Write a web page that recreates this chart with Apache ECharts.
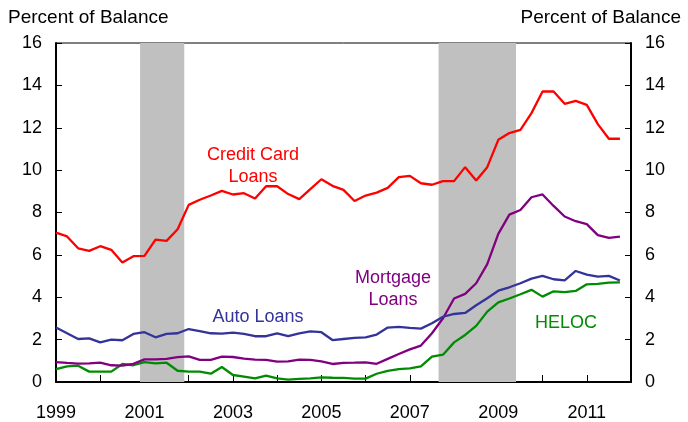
<!DOCTYPE html>
<html>
	<head>
		<meta charset="utf-8">
		<title>Delinquency rates</title>
		<script src="https://cdn.jsdelivr.net/npm/echarts@6/dist/echarts.min.js"></script>
		<style>
			body { margin: 0; background: #fff; }
			#main { width: 688px; height: 422px; }
		</style>
	</head>
	<body>
		<div id="main"></div>
		<script>
			// quarterly, 1999Q1 .. 2011Q4 (x = quarter index)
			var creditCard = [7.05, 6.87, 6.31, 6.19, 6.41, 6.24, 5.64, 5.94, 5.95, 6.72, 6.66, 7.21, 8.36,
				8.60, 8.80, 9.02, 8.85, 8.91, 8.66, 9.24, 9.24, 8.87, 8.63, 9.10, 9.57,
				9.26, 9.07, 8.54, 8.80, 8.94, 9.16, 9.67, 9.73, 9.38, 9.31, 9.48, 9.48, 10.14,
				9.51, 10.14, 11.43, 11.75, 11.90, 12.69, 13.71, 13.71, 13.13, 13.27, 13.08, 12.17, 11.48, 11.48]
			var autoLoans = [2.57, 2.30, 2.03, 2.06, 1.87, 2.00, 1.97, 2.27, 2.35, 2.11, 2.27, 2.30, 2.50,
				2.40, 2.30, 2.28, 2.33, 2.27, 2.16, 2.16, 2.30, 2.17, 2.30, 2.39, 2.35,
				1.98, 2.03, 2.08, 2.11, 2.24, 2.57, 2.60, 2.55, 2.52, 2.77, 3.08, 3.21, 3.26,
				3.62, 3.95, 4.31, 4.47, 4.66, 4.88, 5.01, 4.85, 4.80, 5.24, 5.07, 4.97, 5.01, 4.79]
			var mortgage = [0.94, 0.90, 0.87, 0.88, 0.91, 0.79, 0.77, 0.86, 1.07, 1.07, 1.09, 1.17, 1.21,
				1.04, 1.04, 1.20, 1.18, 1.10, 1.06, 1.04, 0.96, 0.97, 1.06, 1.04, 0.97,
				0.85, 0.90, 0.91, 0.93, 0.86, 1.09, 1.32, 1.54, 1.72, 2.30, 3.01, 3.94, 4.16,
				4.66, 5.56, 6.99, 7.90, 8.12, 8.72, 8.85, 8.31, 7.81, 7.59, 7.45, 6.93, 6.80, 6.86]
			var heloc = [0.61, 0.74, 0.77, 0.49, 0.49, 0.49, 0.85, 0.79, 0.94, 0.88, 0.91, 0.53, 0.49,
				0.49, 0.39, 0.71, 0.33, 0.25, 0.17, 0.30, 0.17, 0.11, 0.15, 0.17, 0.22,
				0.20, 0.19, 0.16, 0.16, 0.39, 0.53, 0.61, 0.64, 0.74, 1.20, 1.29, 1.87, 2.22,
				2.65, 3.32, 3.76, 3.94, 4.14, 4.35, 4.03, 4.28, 4.24, 4.30, 4.61, 4.63, 4.69, 4.70]
			var yearLabels = ['1999', '2001', '2003', '2005', '2007', '2009', '2011']
			// recession bands in quarter index units
			var recessions = [[7.6, 11.6], [34.6, 41.6]]

			function toXY(arr) {
				var out = []
				for (var i = 0; i < arr.length; i++) {
					out.push([i, arr[i]])
				}
				return out
			}

			var font = 'Liberation Sans, Arial, sans-serif'
			var myChart = echarts.init(document.getElementById('main'))

			var yAxisBase = {
				type: 'value',
				min: 0,
				max: 16,
				interval: 2,
				splitLine: { show: false },
				axisLine: { show: true, lineStyle: { color: '#000', width: 2 } },
				axisTick: { show: true, inside: true, length: 6, lineStyle: { color: '#000' } },
				axisLabel: { color: '#000', fontSize: 18, fontFamily: font, margin: 14 }
			}

			function line(name, data, color) {
				return {
					name: name,
					type: 'line',
					data: toXY(data),
					symbol: 'none',
					z: 3,
					lineStyle: { color: color, width: 2.3 }
				}
			}

			var option = {
				animation: false,
				grid: {
					left: 56, right: 57, top: 43, bottom: 40,
					show: true, borderColor: '#000', borderWidth: 1
				},
				xAxis: {
					type: 'value',
					min: 0,
					max: 52,
					interval: 4,
					splitLine: { show: false },
					axisLine: { lineStyle: { color: '#000', width: 2 } },
					axisTick: { inside: true, length: 7, lineStyle: { color: '#000' } },
					axisLabel: {
						color: '#000', fontSize: 18, fontFamily: font, margin: 22,
						showMaxLabel: false,
						formatter: function(v) {
							var k = v / 8
							return k === Math.floor(k) ? (yearLabels[k] || '') : ''
						}
					}
				},
				yAxis: [
					Object.assign({ position: 'left' }, yAxisBase),
					Object.assign({ position: 'right' }, yAxisBase)
				],
				series: [
					{
						type: 'line',
						data: [],
						z: 1,
						markArea: {
							silent: true,
							itemStyle: { color: '#c0c0c0' },
							data: recessions.map(function(r) {
								return [{ xAxis: r[0] }, { xAxis: r[1] }]
							})
						}
					},
					line('HELOC', heloc, '#008c00'),
					line('Mortgage Loans', mortgage, '#800080'),
					line('Auto Loans', autoLoans, '#333399'),
					line('Credit Card Loans', creditCard, '#ff0000')
				],
				graphic: [
					{ type: 'text', left: 8, top: 8, style: { text: 'Percent of Balance', fontSize: 19, fontFamily: font, fill: '#000' } },
					{ type: 'text', right: 7, top: 8, style: { text: 'Percent of Balance', fontSize: 19, fontFamily: font, fill: '#000' } },
					{ type: 'text', x: 253, y: 166, style: { text: 'Credit Card\nLoans', align: 'center', verticalAlign: 'middle', lineHeight: 22, fontSize: 18, fontFamily: font, fill: '#ff0000' } },
					{ type: 'text', x: 258, y: 317, style: { text: 'Auto Loans', align: 'center', verticalAlign: 'middle', fontSize: 18, fontFamily: font, fill: '#333399' } },
					{ type: 'text', x: 393, y: 289, style: { text: 'Mortgage\nLoans', align: 'center', verticalAlign: 'middle', lineHeight: 22, fontSize: 18, fontFamily: font, fill: '#800080' } },
					{ type: 'text', x: 566, y: 323, style: { text: 'HELOC', align: 'center', verticalAlign: 'middle', fontSize: 18, fontFamily: font, fill: '#008c00' } }
				]
			}
			myChart.setOption(option)
		</script>
	</body>
</html>
